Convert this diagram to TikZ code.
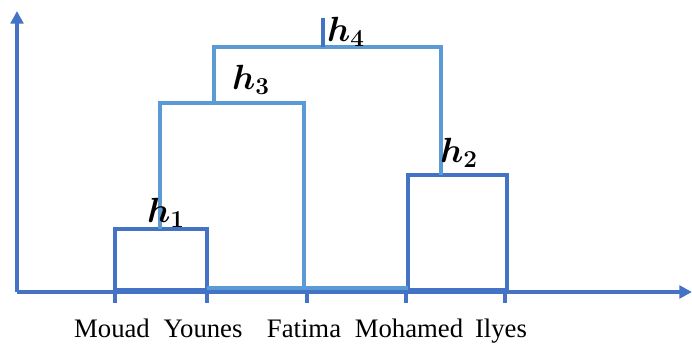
\documentclass[tikz,border=0pt]{standalone}
\usepackage{amsmath}
\usepackage{amssymb}
\usepackage{fontspec}
\setmainfont{Liberation Serif}
\usepackage{tikz}
\usetikzlibrary{arrows.meta}

\definecolor{darkblue}{HTML}{4472C4}
\definecolor{lightblue}{HTML}{5B9BD5}

\begin{document}
\begin{tikzpicture}[x=0.025cm,y=0.025cm, line width=2.3pt,
	axis/.style={darkblue, -{Triangle[length=9pt,width=9pt]}},
	leaf/.style={font=\fontsize{19}{22}\selectfont, inner sep=0pt, anchor=base},
	height/.style={font=\fontsize{24}{28}\selectfont, inner sep=0pt}]
	\useasboundingbox (0,0) rectangle (692,345);
	% axes
	\coordinate (o) at (17,53);
	\coordinate (ytop) at (17,334);
	\coordinate (xend) at (692,53);
	\path[draw, axis] (o) -- (ytop);
	\path[draw, axis] (o) -- (xend);
	% leaves and their ticks
	\foreach \x/\n in {115/mouad, 207/younes, 307/fatima, 406/mohamed, 505/ilyes} {
		\coordinate (t\n) at (\x,55);
		\path[draw, darkblue] (t\n) -- ++(0,-13);
	}
	\draw (112,8) node(mouad) [leaf] {Mouad};
	\draw (203,8) node(younes) [leaf] {Younes};
	\draw (304,8) node(fatima) [leaf] {Fatima};
	\draw (409,8) node(mohamed) [leaf] {Mohamed};
	\draw (501,8) node(ilyes) [leaf] {Ilyes};
	% first merges
	\path[draw, darkblue] (115,55) rectangle (207,116);
	\path[draw, darkblue] (408,55) rectangle (507,170);
	% third merge
	\path[draw, lightblue] (160,116) |- (304,242) -- (304,57) -- (408,57);
	\path[draw, lightblue] (207,57) -- (304,57);
	% fourth merge
	\path[draw, lightblue] (214,242) |- (441,298) -- (441,170);
	\path[draw, darkblue] (323,298) -- (323,327);
	% heights
	\draw (166,132) node(h1) [height] {$\boldsymbol{h_1}$};
	\draw (459,192) node(h2) [height] {$\boldsymbol{h_2}$};
	\draw (251,265) node(h3) [height] {$\boldsymbol{h_3}$};
	\draw (346,313) node(h4) [height] {$\boldsymbol{h_4}$};
\end{tikzpicture}
\end{document}
